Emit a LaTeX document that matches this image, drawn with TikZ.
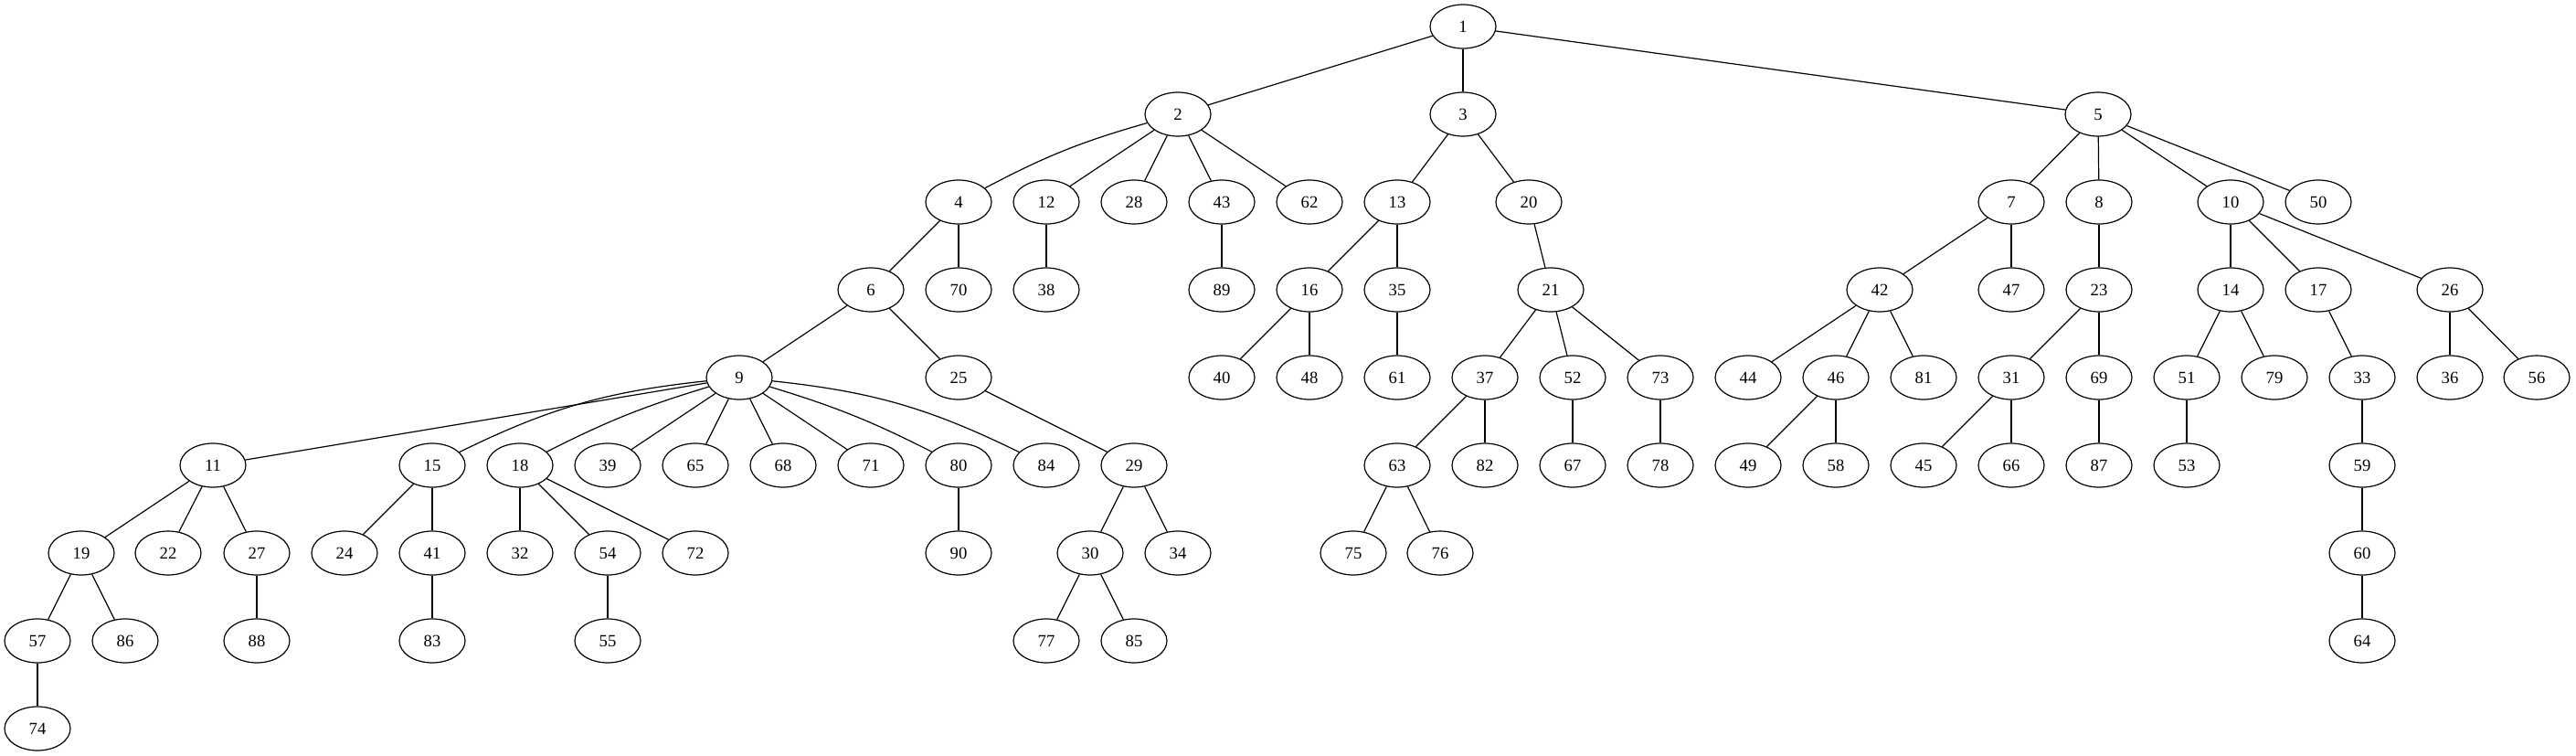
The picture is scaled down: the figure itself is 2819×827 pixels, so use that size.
\documentclass[tikz,border=0pt]{standalone}
\usepackage{fontspec}
\setmainfont{Liberation Serif}
\usetikzlibrary{shapes.geometric}
\tikzset{
  vx/.style={draw, ellipse, line width=0.9pt, minimum width=54pt, minimum height=36pt, inner sep=0pt, font=\fontsize{14pt}{16pt}\selectfont},
  edge/.style={line width=0.9pt}
}
\begin{document}
\begin{tikzpicture}[x=0.75pt,y=-0.75pt]
\useasboundingbox (0,0) rectangle (2819,827);
\foreach \n/\x/\r in {
 1/1601/0,
 2/1289/1, 3/1601/1, 5/2296/1,
 4/1049/2, 12/1145/2, 28/1241/2, 43/1337/2, 62/1433/2, 13/1529/2, 20/1673/2, 7/2201/2, 8/2297/2, 10/2441/2, 50/2537/2,
 6/953/3, 70/1049/3, 38/1145/3, 89/1337/3, 16/1433/3, 35/1529/3, 21/1697/3, 42/2057/3, 47/2201/3, 23/2297/3, 14/2441/3, 17/2537/3, 26/2681/3,
 9/809/4, 25/1049/4, 40/1337/4, 48/1433/4, 61/1529/4, 37/1625/4, 52/1721/4, 73/1817/4, 44/1913/4, 46/2009/4, 81/2105/4, 31/2201/4, 69/2297/4, 51/2393/4, 79/2489/4, 33/2585/4, 36/2681/4, 56/2776/4,
 11/233/5, 15/473/5, 18/569/5, 39/665/5, 65/761/5, 68/857/5, 71/953/5, 80/1049/5, 84/1145/5, 29/1241/5, 63/1529/5, 82/1625/5, 67/1721/5, 78/1817/5, 49/1913/5, 58/2009/5, 45/2105/5, 66/2201/5, 87/2297/5, 53/2393/5, 59/2585/5,
 19/89/6, 22/184/6, 27/281/6, 24/377/6, 41/473/6, 32/569/6, 54/665/6, 72/761/6, 90/1049/6, 30/1193/6, 34/1289/6, 75/1481/6, 76/1576/6, 60/2585/6,
 57/41/7, 86/137/7, 88/281/7, 83/473/7, 55/665/7, 77/1145/7, 85/1241/7, 64/2585/7,
 74/41/8}
 \node[vx] (n\n) at (\x,{29+96*\r}) {\n};
\foreach \a/\b in {
 1/2, 1/3, 1/5,
 2/12, 2/28, 2/43, 2/62,
 3/13, 3/20,
 5/7, 5/8, 5/10, 5/50,
 4/6, 4/70, 12/38, 43/89,
 13/16, 13/35, 20/21,
 7/42, 7/47, 8/23,
 10/14, 10/17, 10/26,
 6/9, 6/25,
 16/40, 16/48, 35/61,
 21/37, 21/52, 21/73,
 42/44, 42/46, 42/81,
 23/31, 23/69,
 14/51, 14/79, 17/33,
 26/36, 26/56,
 9/11, 9/39, 9/65, 9/68, 9/71,
 25/29,
 37/63, 37/82, 52/67, 73/78,
 46/49, 46/58,
 31/45, 31/66, 69/87, 51/53, 33/59,
 11/19, 11/22, 11/27,
 15/24, 15/41,
 18/32, 18/54, 18/72,
 80/90, 29/30, 29/34,
 63/75, 63/76, 59/60,
 19/57, 19/86, 27/88, 41/83, 54/55,
 30/77, 30/85, 60/64, 57/74}
 \draw[edge] (n\a) -- (n\b);
\draw[edge] (n2) to[bend right=6] (n4);
\draw[edge] (n9) to[bend right=10] (n15);
\draw[edge] (n9) to[bend right=5] (n18);
\draw[edge] (n9) to[bend left=5] (n80);
\draw[edge] (n9) to[bend left=10] (n84);
\end{tikzpicture}
\end{document}
